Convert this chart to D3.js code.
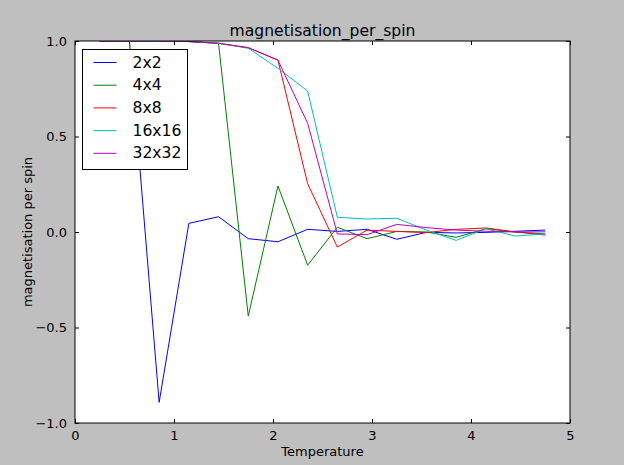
<!doctype html>
<html lang="en">
<head>
  <meta charset="utf-8">
  <title>magnetisation_per_spin</title>
  <style>
    html, body { margin: 0; padding: 0; background: #bfbfbf; }
    svg { display: block; font-family: "DejaVu Sans", sans-serif; }
  </style>
</head>
<body>
  <svg></svg>
  <script src="https://cdn.jsdelivr.net/npm/d3@7"></script>
  <script>
    // 数据
    const temperature = [0.25, 0.55, 0.85, 1.15, 1.45, 1.75, 2.05, 2.35, 2.65, 2.95, 3.25, 3.55, 3.85, 4.15, 4.45, 4.75];
    const m2x2   = [1.0, 1.0, -0.892, 0.045, 0.080, -0.035, -0.051, 0.014, 0.003, 0.014, -0.038, -0.002, -0.005, -0.002, 0.004, 0.010];
    const m4x4   = [1.0, 1.0, 1.0, 0.997, 0.988, -0.440, 0.241, -0.174, 0.025, -0.035, 0.003, 0.000, -0.028, 0.017, 0.000, -0.010];
    const m8x8   = [1.0, 1.0, 1.0, 0.997, 0.988, 0.965, 0.900, 0.253, -0.079, 0.010, 0.003, -0.003, 0.014, 0.021, 0.000, -0.016];
    const m16x16 = [1.0, 1.0, 1.0, 0.997, 0.988, 0.962, 0.857, 0.738, 0.077, 0.068, 0.072, 0.010, -0.044, 0.017, -0.021, -0.010];
    const m32x32 = [1.0, 1.0, 1.0, 0.997, 0.988, 0.965, 0.900, 0.569, -0.010, -0.014, 0.040, 0.023, 0.010, 0.004, 0.000, 0.001];
    const seriesNames = ['2x2', '4x4', '8x8', '16x16', '32x32'];
    const seriesValues = [m2x2, m4x4, m8x8, m16x16, m32x32];
    const seriesColors = ['#0000ff', '#008000', '#ff0000', '#00bfbf', '#bf00bf'];
    const xTicks = [0, 1, 2, 3, 4, 5];
    const yTicks = [-1.0, -0.5, 0.0, 0.5, 1.0];

    const width = 624;
    const height = 465;
    const margin = { top: 41, right: 54, bottom: 42, left: 75 };

    const svg = d3.select('svg')
      .attr('width', width)
      .attr('height', height)
      .attr('viewBox', [0, 0, width, height]);

    svg.append('rect')
      .attr('width', width)
      .attr('height', height)
      .attr('fill', '#bfbfbf');

    const x = d3.scaleLinear()
      .domain([0, 5])
      .range([margin.left, width - margin.right]);

    const y = d3.scaleLinear()
      .domain([-1, 1])
      .range([height - margin.bottom, margin.top]);

    // 绘图区背景
    svg.append('rect')
      .attr('x', x(0))
      .attr('y', y(1))
      .attr('width', x(5) - x(0))
      .attr('height', y(-1) - y(1))
      .attr('fill', '#ffffff');

    // 裁剪区
    svg.append('clipPath')
      .attr('id', 'plotClip')
      .append('rect')
      .attr('x', x(0))
      .attr('y', y(1))
      .attr('width', x(5) - x(0))
      .attr('height', y(-1) - y(1));

    // 绘制折线
    const line = d3.line()
      .x((d, i) => x(temperature[i]))
      .y(d => y(d));

    const lines = svg.append('g').attr('clip-path', 'url(#plotClip)');
    seriesValues.forEach((values, k) => {
      lines.append('path')
        .datum(values)
        .attr('fill', 'none')
        .attr('stroke', seriesColors[k])
        .attr('stroke-width', 1)
        .attr('d', line);
    });

    // 坐标轴（刻度朝内，四边都有）
    const fmtY = v => d3.format('.1f')(v).replace('-', '\u2212');

    svg.append('g')
      .attr('transform', 'translate(0,' + y(-1) + ')')
      .call(d3.axisBottom(x).tickValues(xTicks).tickFormat(d3.format('d')).tickSizeInner(-4).tickSizeOuter(0).tickPadding(8))
      .call(g => g.select('.domain').remove());

    svg.append('g')
      .attr('transform', 'translate(0,' + y(1) + ')')
      .call(d3.axisTop(x).tickValues(xTicks).tickFormat('').tickSizeInner(-4).tickSizeOuter(0))
      .call(g => g.select('.domain').remove());

    svg.append('g')
      .attr('transform', 'translate(' + x(0) + ',0)')
      .call(d3.axisLeft(y).tickValues(yTicks).tickFormat(fmtY).tickSizeInner(-4).tickSizeOuter(0).tickPadding(8))
      .call(g => g.select('.domain').remove());

    svg.append('g')
      .attr('transform', 'translate(' + x(5) + ',0)')
      .call(d3.axisRight(y).tickValues(yTicks).tickFormat('').tickSizeInner(-4).tickSizeOuter(0))
      .call(g => g.select('.domain').remove());

    svg.selectAll('.tick text')
      .attr('font-family', '"DejaVu Sans", sans-serif')
      .attr('font-size', 13)
      .attr('fill', '#000');
    svg.selectAll('.tick line').attr('stroke', '#000');

    // 边框
    svg.append('rect')
      .attr('x', x(0))
      .attr('y', y(1))
      .attr('width', x(5) - x(0))
      .attr('height', y(-1) - y(1))
      .attr('fill', 'none')
      .attr('stroke', '#000')
      .attr('stroke-width', 1);

    // 标题和轴标签
    svg.append('text')
      .text('magnetisation_per_spin')
      .attr('x', (x(0) + x(5)) / 2)
      .attr('y', 36)
      .attr('text-anchor', 'middle')
      .attr('font-size', 15.6);

    svg.append('text')
      .text('Temperature')
      .attr('x', (x(0) + x(5)) / 2)
      .attr('y', 456)
      .attr('text-anchor', 'middle')
      .attr('font-size', 13);

    svg.append('text')
      .text('magnetisation per spin')
      .attr('transform', 'translate(32,' + y(0) + ') rotate(-90)')
      .attr('text-anchor', 'middle')
      .attr('font-size', 13);

    // 图例
    const legend = svg.append('g').attr('transform', 'translate(82.5,49.5)');
    legend.append('rect')
      .attr('width', 105)
      .attr('height', 120)
      .attr('fill', '#fff')
      .attr('stroke', '#000')
      .attr('stroke-width', 1);

    seriesNames.forEach((name, k) => {
      const ry = 13 + k * 22.7;
      legend.append('line')
        .attr('x1', 11)
        .attr('x2', 34)
        .attr('y1', ry)
        .attr('y2', ry)
        .attr('stroke', seriesColors[k])
        .attr('stroke-width', 1);
      legend.append('text')
        .text(name)
        .attr('x', 50)
        .attr('y', ry)
        .attr('dominant-baseline', 'central')
        .attr('font-size', 15.6);
    });
  </script>
</body>
</html>
